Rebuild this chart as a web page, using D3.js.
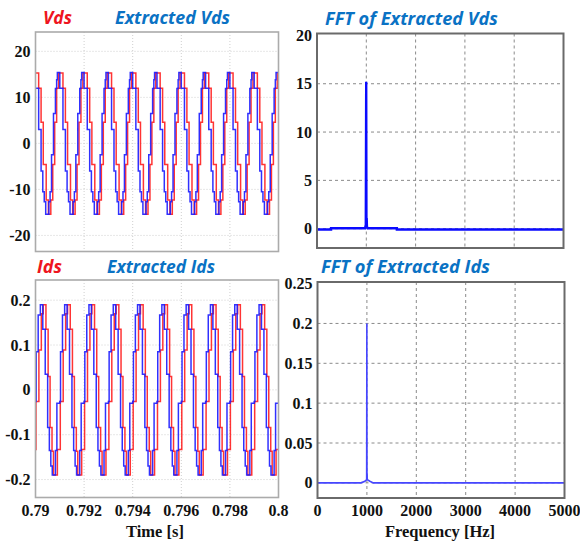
<!DOCTYPE html>
<html>
<head>
<meta charset="utf-8">
<script src="https://cdn.jsdelivr.net/npm/d3@7/dist/d3.min.js"></script>
<style>
  body { margin: 0; background: #fff; }
</style>
</head>
<body>
<svg id="chart" width="580" height="543"></svg>
<script>
// ── Data ───────────────────────────────────────────────────────────────────
// Waveforms are 1 kHz staircases; one period is read off the picture
// (step start in ms after the period start, held level) and repeated.
const T0 = 0.79;
const PERIOD = 0.001;
const CYCLES = 10;

const vdsT    = [0, 0.13, 0.23, 0.32, 0.44, 0.53, 0.63, 0.71, 0.79, 0.87, 0.95];
const vdsV    = [15.3, 12.0, 4.6, -4.6, -12.3, -15.4, -12.3, -4.6, 4.6, 12.0, 15.3];
const extVdsT = [0, 0.13, 0.23, 0.30, 0.36, 0.42, 0.55, 0.60, 0.66, 0.74, 0.82, 0.87, 0.90];
const extVdsV = [12.0, 3.0, -6.0, -10.5, -12.7, -15.4, -12.7, -10.5, -2.5, 6.5, 11.9, 13.8, 15.4];

const idsT    = [0, 0.02, 0.14, 0.24, 0.32, 0.43, 0.52, 0.60, 0.68, 0.74, 0.90];
const idsV    = [-0.133, -0.026, 0.089, 0.17, 0.19, 0.135, 0.03, -0.084, -0.137, -0.19, -0.133];
const extIdsT = [0, 0.03, 0.11, 0.20, 0.30, 0.40, 0.50, 0.57, 0.63, 0.69, 0.82, 0.88];
const extIdsV = [-0.026, 0.085, 0.167, 0.19, 0.135, 0.035, -0.084, -0.135, -0.17, -0.19, -0.135, -0.03];

// spectra (Hz, magnitude)
const fftVdsF = [0, 285, 285, 975, 990, 998, 1003, 1008, 1013, 1030, 1620, 1620, 5000];
const fftVdsM = [-0.08, -0.08, 0.05, 0.05, 0.4, 15.2, 0.3, 1.1, 0.2, 0.05, 0.05, -0.08, -0.08];
const fftIdsF = [0, 880, 960, 995, 999, 1002, 1004, 1008, 1060, 1130, 5000];
const fftIdsM = [0, 0, 0.002, 0.004, 0.2, 0.004, 0.012, 0.004, 0.002, 0, 0];

// ticks
const timeTicks  = [0.79, 0.792, 0.794, 0.796, 0.798, 0.8];
const timeLabels = ['0.79', '0.792', '0.794', '0.796', '0.798', '0.8'];
const vdsTicks   = [20, 10, 0, -10, -20];
const idsTicks   = [0.2, 0.1, 0, -0.1, -0.2];
const freqTicks  = [0, 1000, 2000, 3000, 4000, 5000];
const fftVdsTicks = [20, 15, 10, 5, 0];
const fftIdsTicks = [0.25, 0.2, 0.15, 0.1, 0.05, 0];

const RED = '#ff1010';
const BLUE = '#1a1aff';
const TITLE_RED = '#ee1520';
const TITLE_BLUE = '#0a72c4';
const SERIF = '"Liberation Serif", "Times New Roman", serif';

// ── Helpers ────────────────────────────────────────────────────────────────

const svg = d3.select('#chart');
const defs = svg.append('defs');

function staircase(stepT, stepV) {
  const pts = [];
  for (let c = 0; c < CYCLES; c++) {
    stepT.forEach((t, i) => pts.push([T0 + c * PERIOD + t / 1000, stepV[i]]));
  }
  pts.push([T0 + CYCLES * PERIOD, stepV[stepV.length - 1]]);
  return pts;
}

function panel(p) {
  const x = d3.scaleLinear().domain(p.xDomain).range([p.left, p.right]);
  const y = d3.scaleLinear().domain(p.yDomain).range([p.bottom, p.top]);
  const g = svg.append('g');

  g.selectAll('.vg').data(p.xGrid).join('line')
    .attr('x1', d => x(d)).attr('x2', d => x(d))
    .attr('y1', p.top).attr('y2', p.bottom)
    .attr('stroke', p.gridColor).attr('stroke-width', 1)
    .attr('stroke-dasharray', p.gridDash);
  g.selectAll('.hg').data(p.yGrid).join('line')
    .attr('x1', p.left).attr('x2', p.right)
    .attr('y1', d => y(d)).attr('y2', d => y(d))
    .attr('stroke', p.gridColor).attr('stroke-width', 1)
    .attr('stroke-dasharray', p.gridDash);

  const clipId = 'clip-' + Math.random().toString(36).slice(2);
  defs.append('clipPath').attr('id', clipId)
    .append('rect').attr('x', p.left).attr('y', p.top)
    .attr('width', p.right - p.left).attr('height', p.bottom - p.top);
  const plot = g.append('g').attr('clip-path', `url(#${clipId})`);

  for (const s of p.series) {
    const line = d3.line()
      .x(d => x(d[0])).y(d => y(d[1]))
      .curve(s.step ? d3.curveStepAfter : d3.curveLinear);
    plot.append('path')
      .attr('d', line(s.data))
      .attr('fill', 'none')
      .attr('stroke', s.color)
      .attr('stroke-width', s.width)
      .attr('stroke-opacity', s.opacity || 1);
  }

  g.append('rect')
    .attr('x', p.left).attr('y', p.top)
    .attr('width', p.right - p.left).attr('height', p.bottom - p.top)
    .attr('fill', 'none').attr('stroke', p.frame).attr('stroke-width', p.frameWidth);

  g.selectAll('.yl').data(p.yTicks).join('text')
    .attr('x', p.left - 5).attr('y', d => y(d)).attr('dy', '0.35em')
    .attr('text-anchor', 'end')
    .attr('font-family', SERIF)
    .attr('font-weight', 'bold').attr('font-size', 16).attr('fill', '#111')
    .text((d, i) => p.yLabels[i]);

  if (p.xLabels) {
    g.selectAll('.xl').data(p.xTicks).join('text')
      .attr('x', d => x(d)).attr('y', p.bottom + 18)
      .attr('text-anchor', 'middle')
      .attr('font-family', SERIF)
      .attr('font-weight', 'bold').attr('font-size', 16).attr('fill', '#111')
      .text((d, i) => p.xLabels[i]);
  }
  return { x, y };
}

// titles: fixed glyph height, squeezed horizontally to the measured width
function title(txt, color, x, yBase, targetW) {
  const t = svg.append('text')
    .attr('x', 0).attr('y', 0)
    .attr('font-family', '"Open Sans", "Noto Sans", sans-serif')
    .attr('font-style', 'italic').attr('font-weight', 'bold')
    .attr('font-size', 18.5).attr('fill', color)
    .text(txt);
  const w = t.node().getComputedTextLength();
  const sx = w > 0 ? Math.min(1.1, targetW / w) : 1;
  t.attr('transform', `translate(${x},${yBase}) scale(${sx},1)`);
}

function axisTitle(txt, x, yBase) {
  svg.append('text')
    .attr('x', x).attr('y', yBase).attr('text-anchor', 'middle')
    .attr('font-family', SERIF)
    .attr('font-weight', 'bold').attr('font-size', 16.5).attr('fill', '#111')
    .text(txt);
}

// ── Left: time waveforms ───────────────────────────────────────────────────

const LEFT_STYLE = { gridColor: '#cfcfcf', gridDash: '1,2', frame: '#ababab', frameWidth: 1.6 };
const RIGHT_STYLE = { gridColor: '#8a8a8a', gridDash: '3,3', frame: '#6a6a6a', frameWidth: 2 };

panel({
  ...LEFT_STYLE,
  left: 35.5, right: 278.5, top: 32, bottom: 251.5,
  xDomain: [0.79, 0.8], yDomain: [-23.5, 24.2],
  xGrid: timeTicks.slice(1, -1), yGrid: vdsTicks,
  xTicks: timeTicks, xLabels: null,
  yTicks: vdsTicks, yLabels: vdsTicks.map(String),
  series: [
    { data: staircase(vdsT, vdsV), color: RED, width: 1.5, opacity: 0.85, step: true },
    { data: staircase(extVdsT, extVdsV), color: BLUE, width: 1.5, opacity: 0.9, step: true },
  ],
});

panel({
  ...LEFT_STYLE,
  left: 35.5, right: 278.5, top: 280, bottom: 497.5,
  xDomain: [0.79, 0.8], yDomain: [-0.24, 0.245],
  xGrid: timeTicks.slice(1, -1), yGrid: idsTicks,
  xTicks: timeTicks, xLabels: timeLabels,
  yTicks: idsTicks, yLabels: idsTicks.map(String),
  series: [
    { data: staircase(idsT, idsV), color: RED, width: 1.5, opacity: 0.85, step: true },
    { data: staircase(extIdsT, extIdsV), color: BLUE, width: 1.5, opacity: 0.9, step: true },
  ],
});

// ── Right: spectra ─────────────────────────────────────────────────────────

panel({
  ...RIGHT_STYLE,
  left: 317, right: 563.5, top: 33.5, bottom: 248,
  xDomain: [0, 5000], yDomain: [-2, 20.2],
  xGrid: freqTicks.slice(1, -1), yGrid: fftVdsTicks.slice(1),
  xTicks: freqTicks, xLabels: null,
  yTicks: fftVdsTicks, yLabels: fftVdsTicks.map(String),
  series: [
    { data: fftVdsF.map((f, i) => [f, fftVdsM[i]]), color: '#0a0aff', width: 2.4 },
  ],
});

panel({
  ...RIGHT_STYLE,
  left: 317.5, right: 564.5, top: 282, bottom: 498,
  xDomain: [0, 5000], yDomain: [-0.019, 0.252],
  xGrid: freqTicks.slice(1, -1), yGrid: fftIdsTicks.slice(1),
  xTicks: freqTicks, xLabels: freqTicks.map(String),
  yTicks: fftIdsTicks, yLabels: fftIdsTicks.map(String),
  series: [
    { data: fftIdsF.map((f, i) => [f, fftIdsM[i]]), color: '#4646ff', width: 1.6 },
  ],
});

// ── Titles ─────────────────────────────────────────────────────────────────

title('Vds', TITLE_RED, 43, 24, 29);
title('Extracted Vds', TITLE_BLUE, 115, 24, 115);
title('FFT of Extracted Vds', TITLE_BLUE, 325, 25, 173);
title('Ids', TITLE_RED, 37, 273, 25);
title('Extracted Ids', TITLE_BLUE, 107, 273, 108);
title('FFT of Extracted Ids', TITLE_BLUE, 321, 273, 169);

axisTitle('Time [s]', 155, 537);
axisTitle('Frequency [Hz]', 440, 537);
</script>
</body>
</html>
